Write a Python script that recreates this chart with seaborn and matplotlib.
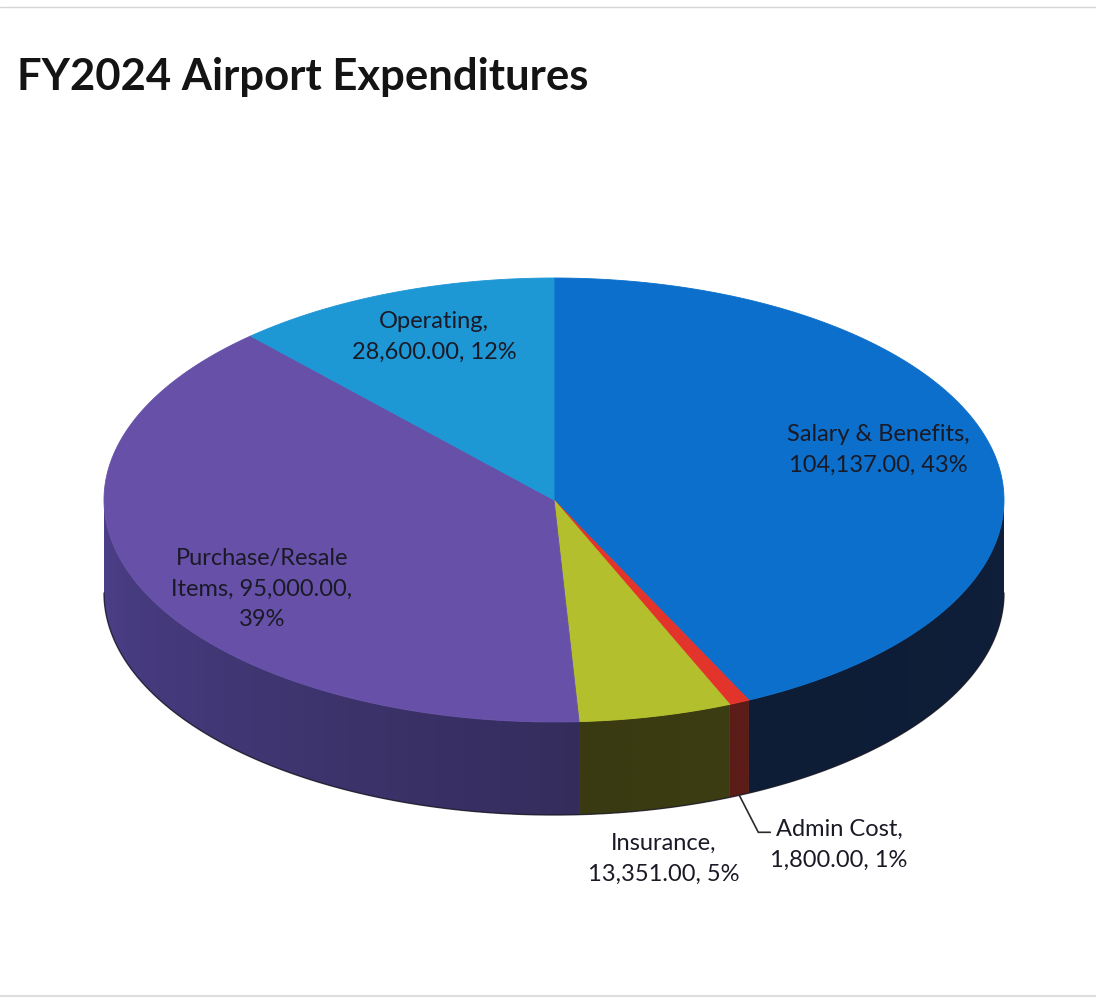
import textwrap

import numpy as np
import matplotlib
matplotlib.use("Agg")
import matplotlib.pyplot as plt
from matplotlib.colors import to_rgb
from matplotlib.patches import Polygon
import seaborn as sns

# ---- data -----------------------------------------------------------------
title = "FY2024 Airport Expenditures"
categories = ["Salary & Benefits", "Admin Cost", "Insurance",
              "Purchase/Resale Items", "Operating"]
amounts = [104137.00, 1800.00, 13351.00, 95000.00, 28600.00]

# ---- styling ----------------------------------------------------------------
top_colors = ["#0b6fcb", "#e3342b", "#b3bf2c", "#6650a8", "#1e97d5"]
# side wall colour at the start / end of each slice (clockwise)
side_colors = [("#11233f", "#0e1d36"), ("#5c1c18", "#5c1c18"),
               ("#3d3d12", "#3a3a12"), ("#342d5c", "#5a49a2"),
               ("#1a5a85", "#1a5a85")]
text_color = "#1a1a26"

# label anchors in figure pixels (centre of the text block)
label_xy = {
    "Salary & Benefits": (878, 450),
    "Admin Cost": (839, 845),
    "Insurance": (664, 859),
    "Purchase/Resale Items": (262, 589),
    "Operating": (434, 337),
}

W, H = 1096, 999
cx, cy = 554.0, 500.0      # centre of the top face
rx, ry = 450.0, 222.0      # radii of the tilted top face
depth = 93.0               # thickness of the pie wall

sns.set_theme(style="white")
plt.rcParams["font.family"] = ["Lato", "DejaVu Sans"]

fig = plt.figure(figsize=(W / 100, H / 100), dpi=100)
ax = fig.add_axes([0, 0, 1, 1])
ax.set_xlim(0, W)
ax.set_ylim(H, 0)
ax.axis("off")


def rim(theta_deg, drop=0.0):
    """Point on the rim; angle measured clockwise from 12 o'clock."""
    t = np.radians(theta_deg)
    return cx + rx * np.sin(t), cy - ry * np.cos(t) + drop


total = float(sum(amounts))
fractions = [a / total for a in amounts]
bounds = np.concatenate([[0.0], np.cumsum(fractions) * 360.0])

# side walls (only the front half, 90..270 degrees, is visible),
# each shaded with a horizontal gradient clipped to its outline
for i in range(len(amounts)):
    a0, a1 = bounds[i], bounds[i + 1]
    s0, s1 = max(a0, 90.0), min(a1, 270.0)
    if s1 <= s0:
        continue
    seg = np.linspace(s0, s1, 200)
    tx, ty = rim(seg)
    bx, by = rim(seg[::-1], depth)
    xs, ys = np.r_[tx, bx], np.r_[ty, by]
    poly = Polygon(np.column_stack([xs, ys]), closed=True,
                   facecolor=side_colors[i][0], edgecolor="none", zorder=2)
    ax.add_patch(poly)

    x_lo, x_hi = xs.min() - 1, xs.max() + 1
    y_lo, y_hi = ys.min() - 1, ys.max() + 1
    cols = np.linspace(x_lo, x_hi, 400)
    theta = 180.0 - np.degrees(np.arcsin(np.clip((cols - cx) / rx, -1, 1)))
    frac = np.clip((theta - a0) / (a1 - a0), 0, 1)
    c0 = np.array(to_rgb(side_colors[i][0]))
    c1 = np.array(to_rgb(side_colors[i][1]))
    row = c0[None, :] + (c1 - c0)[None, :] * frac[:, None]
    img = np.repeat(row[None, :, :], 2, axis=0)
    im = ax.imshow(img, extent=(x_lo, x_hi, y_hi, y_lo), aspect="auto",
                   interpolation="bilinear", zorder=2.5)
    im.set_clip_path(poly)

ax.set_xlim(0, W)
ax.set_ylim(H, 0)

# thin dark outline along the bottom of the wall
seg = np.linspace(90, 270, 300)
bx, by = rim(seg, depth)
ax.plot(bx, by, color="#1a1a26", lw=1.0, zorder=3, alpha=0.8)

# top faces
for i in range(len(amounts)):
    seg = np.linspace(bounds[i], bounds[i + 1], 200)
    tx, ty = rim(seg)
    ax.add_patch(Polygon(np.column_stack([np.r_[cx, tx], np.r_[cy, ty]]),
                         closed=True, facecolor=top_colors[i],
                         edgecolor=top_colors[i], linewidth=0.6, zorder=4))

# data labels
for cat, amt, frac in zip(categories, amounts, fractions):
    raw = f"{cat}, {amt:,.2f}, {round(frac * 100):.0f}%"
    txt = "\n".join(textwrap.wrap(raw, width=18))
    x, y = label_xy[cat]
    ax.text(x, y, txt, ha="center", va="center", multialignment="center",
            fontsize=17, color=text_color, linespacing=1.55, zorder=6)

# leader line for the thin Admin Cost slice
mid = (bounds[1] + bounds[2]) / 2
lx, ly = rim(mid, depth)
ax.plot([lx, lx + 19, lx + 31], [ly, ly + 37, ly + 37],
        color="#2a2a2a", lw=1.2, zorder=5)

# title
ax.text(17, 77, title, ha="left", va="center", fontsize=31.4,
        fontweight="bold", color="#141414")

# faint page edges
ax.plot([0, W], [7, 7], color="#d6d6d6", lw=1.0)
ax.plot([0, W], [996, 996], color="#dedede", lw=1.5)

fig.savefig("out.png", dpi=100, facecolor="white")
